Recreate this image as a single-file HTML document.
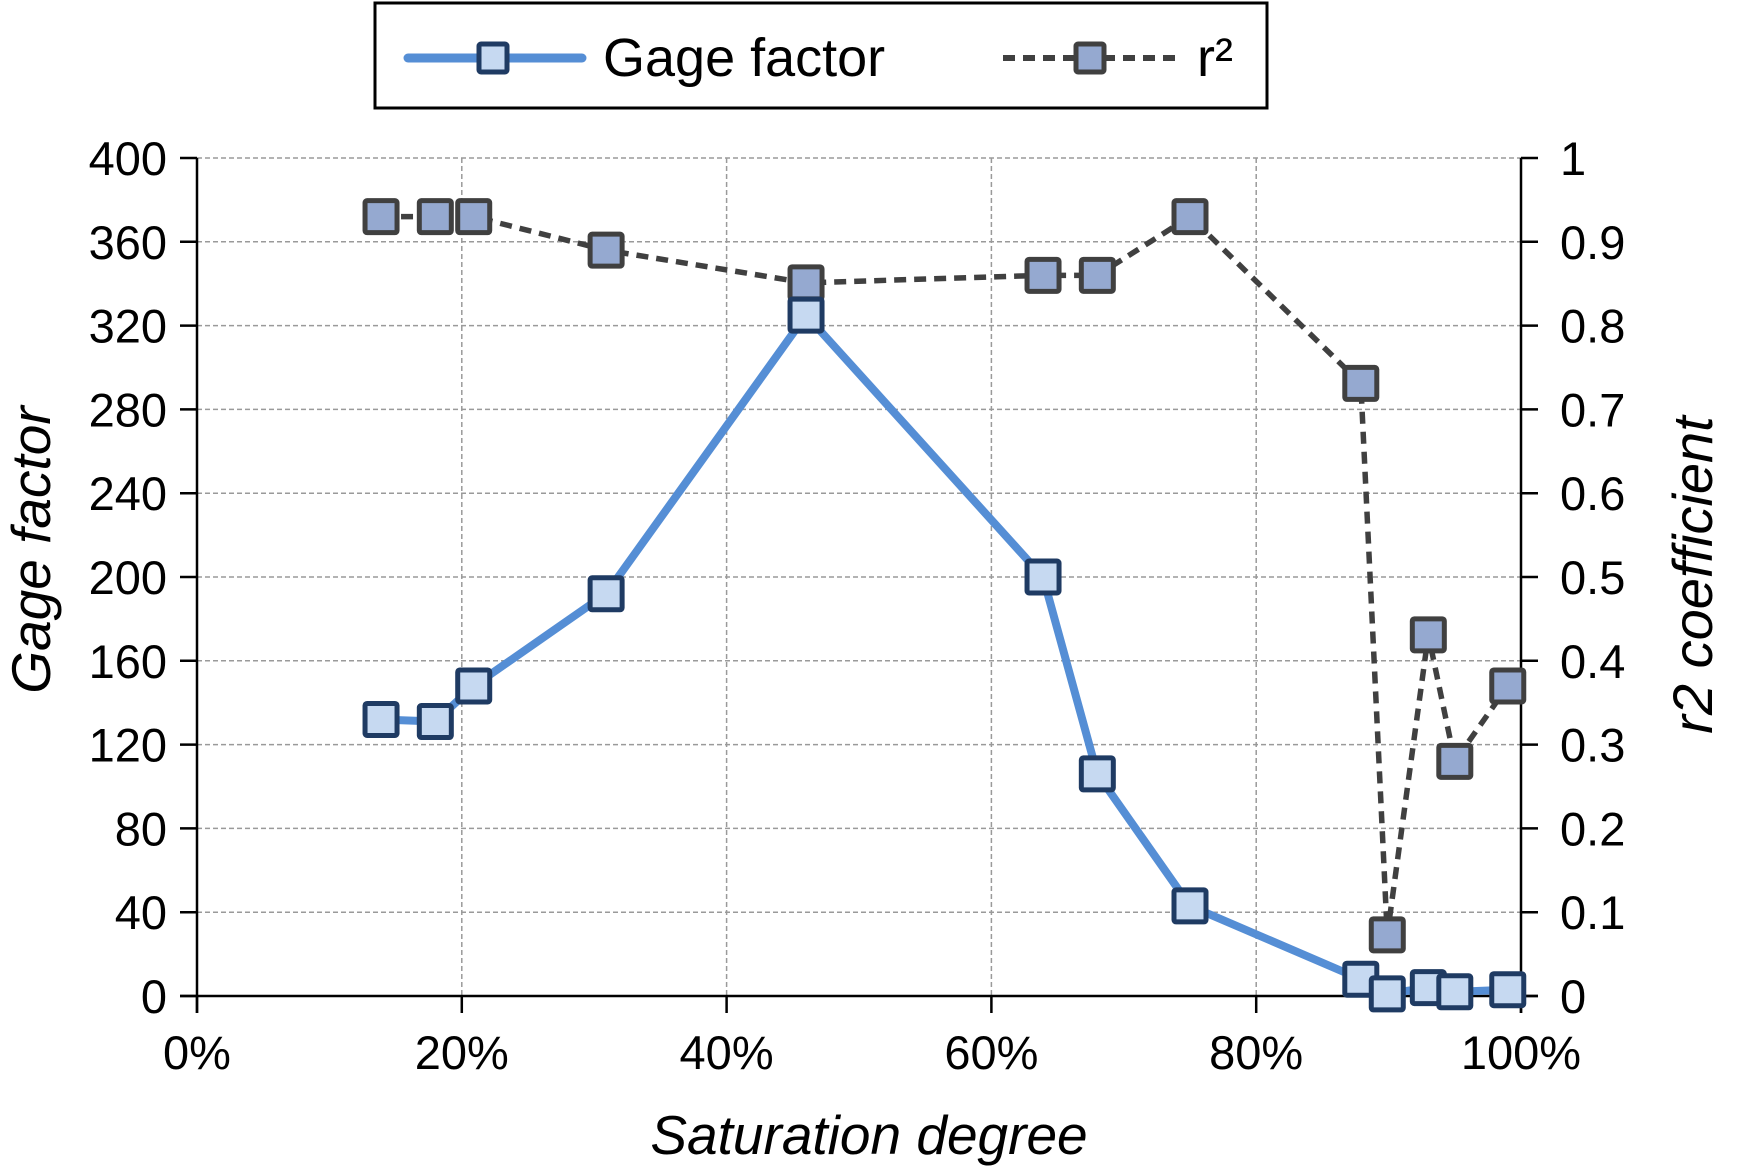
<!DOCTYPE html>
<html><head><meta charset="utf-8"><style>
html,body{margin:0;padding:0;background:#fff;}
svg{display:block;font-family:"Liberation Sans",sans-serif;}
</style></head><body>
<svg id="chart" width="1741" height="1174" viewBox="0 0 1741 1174" xmlns="http://www.w3.org/2000/svg">
<g id="grid"></g>
<g id="axes"></g>
<g id="series"></g>
<text x="869" y="1154" font-size="55" font-style="italic" text-anchor="middle">Saturation degree</text>
<text transform="translate(50,550) rotate(-90)" font-size="55" font-style="italic" text-anchor="middle">Gage factor</text>
<text transform="translate(1712,575) rotate(-90)" font-size="56" font-style="italic" text-anchor="middle">r2 coefficient</text>
<g>
  <rect x="375" y="3" width="892" height="105" fill="#fff" stroke="#000" stroke-width="3"/>
  <g>
    <line x1="408" y1="58" x2="582" y2="58" stroke="#558ED5" stroke-width="9" stroke-linecap="round"/>
    <rect x="479" y="44" width="28" height="28" rx="2" fill="#C6D9F1" stroke="#1F3B63" stroke-width="5"/>
    <text x="603" y="76" font-size="54">Gage factor</text>
  </g>
  <g>
    <line x1="1003" y1="58" x2="1183" y2="58" stroke="#404040" stroke-width="6" stroke-dasharray="12 8"/>
    <rect x="1076" y="44" width="28" height="28" rx="2" fill="#95A9D0" stroke="#404040" stroke-width="5"/>
    <text x="1197" y="76" font-size="54">r²</text>
  </g>
</g>
</svg>
<script>
const satPct = [13.9, 18, 20.9, 30.9, 46, 63.9, 68, 75, 87.9, 89.9, 93, 95, 99];
const gageFactor = [132, 131, 148, 192, 325, 200, 106, 43, 8, 1, 4, 2, 3];
const r2Values = [0.93, 0.93, 0.93, 0.89, 0.851, 0.86, 0.86, 0.93, 0.731, 0.073, 0.431, 0.28, 0.37];
const leftTicks = [0, 40, 80, 120, 160, 200, 240, 280, 320, 360, 400];
const rightTicks = ["0", "0.1", "0.2", "0.3", "0.4", "0.5", "0.6", "0.7", "0.8", "0.9", "1"];
const xTicks = [0, 20, 40, 60, 80, 100];

const X0 = 197, X1 = 1521, Y0 = 996, Y1 = 158;
const xs = v => X0 + (X1 - X0) * v / 100;
const yL = v => Y0 - (Y0 - Y1) * v / 400;
const yR = v => Y0 - (Y0 - Y1) * v / 1;
const NS = "http://www.w3.org/2000/svg";
function mk(tag, attrs, parent) {
  const e = document.createElementNS(NS, tag);
  for (const k in attrs) e.setAttribute(k, attrs[k]);
  parent.appendChild(e);
  return e;
}
const grid = document.getElementById('grid');
const axes = document.getElementById('axes');
const series = document.getElementById('series');

leftTicks.forEach((t, i) => {
  const y = yL(t);
  if (t > 0) {
    const g = mk('line', {x1: X0, x2: X1, y1: y, y2: y, stroke: '#9a9a9a', 'stroke-width': 1.5, 'stroke-dasharray': '5 3'}, grid);
    
    
  }
  const tk = mk('line', {x1: X0 - 17, x2: X0, y1: y, y2: y, stroke: '#000', 'stroke-width': 2.5}, axes);
  
  
  const lb = mk('text', {x: 167, y: y + 17, 'font-size': 47, 'text-anchor': 'end'}, axes);
  lb.textContent = t;
  
  
  const tr = mk('line', {x1: X1, x2: X1 + 17, y1: y, y2: y, stroke: '#000', 'stroke-width': 2.5}, axes);
  
  
  const rl = mk('text', {x: 1560, y: y + 17, 'font-size': 47}, axes);
  rl.textContent = rightTicks[i];
  
  
});
xTicks.forEach(t => {
  const x = xs(t);
  if (t > 0 && t < 100) {
    const g = mk('line', {x1: x, x2: x, y1: Y1, y2: Y0, stroke: '#9a9a9a', 'stroke-width': 1.5, 'stroke-dasharray': '5 3'}, grid);
    
    
  }
  const tk = mk('line', {x1: x, x2: x, y1: Y0, y2: Y0 + 17, stroke: '#000', 'stroke-width': 2.5}, axes);
  
  
  const lb = mk('text', {x: x, y: 1069, 'font-size': 47, 'text-anchor': 'middle'}, axes);
  lb.textContent = t + '%';
  
  
});
const la = mk('line', {x1: X0, x2: X0, y1: Y1, y2: Y0 + 17, stroke: '#000', 'stroke-width': 2.5}, axes);


const ra = mk('line', {x1: X1, x2: X1, y1: Y1, y2: Y0 + 17, stroke: '#000', 'stroke-width': 2.5}, axes);


const ba = mk('line', {x1: X0 - 17, x2: X1 + 17, y1: Y0, y2: Y0, stroke: '#000', 'stroke-width': 2.5}, axes);



const gfPts = satPct.map((s, i) => xs(s) + ',' + yL(gageFactor[i])).join(' ');
const gfLine = mk('polyline', {points: gfPts, fill: 'none', stroke: '#558ED5', 'stroke-width': 8, 'stroke-linejoin': 'round'}, series);


const r2Pts = satPct.map((s, i) => xs(s) + ',' + yR(r2Values[i])).join(' ');
const r2Line = mk('polyline', {points: r2Pts, fill: 'none', stroke: '#404040', 'stroke-width': 5.5, 'stroke-dasharray': '12 8'}, series);


satPct.forEach((s, i) => {
  const m = mk('rect', {x: xs(s) - 16, y: yR(r2Values[i]) - 16, width: 32, height: 32, rx: 2, fill: '#95A9D0', stroke: '#404040', 'stroke-width': 5}, series);
  
  
});
satPct.forEach((s, i) => {
  const m = mk('rect', {x: xs(s) - 16, y: yL(gageFactor[i]) - 16, width: 32, height: 32, rx: 2, fill: '#C6D9F1', stroke: '#1F3B63', 'stroke-width': 5}, series);
  
  
});
</script>
</body></html>
